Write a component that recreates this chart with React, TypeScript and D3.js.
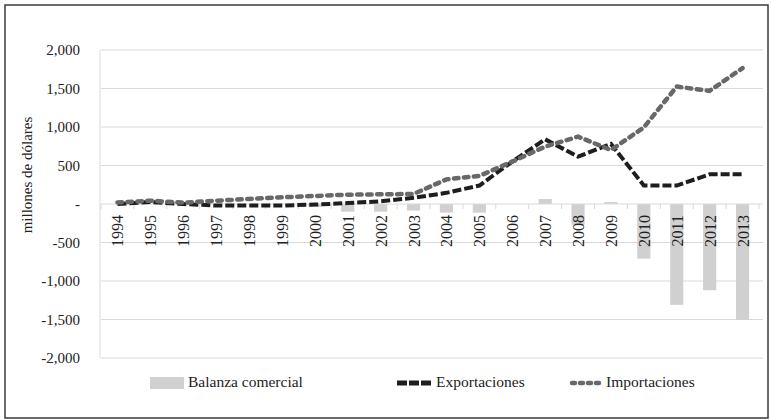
import React, { useEffect, useRef } from "react";
import * as d3 from "d3";

const years = ["1994","1995","1996","1997","1998","1999","2000","2001","2002","2003","2004","2005","2006","2007","2008","2009","2010","2011","2012","2013"];
const balanza = [0,0,0,0,0,0,-40,-100,-100,-85,-112,-112,0,65,-270,25,-710,-1310,-1120,-1505];
const exportaciones = [0,25,0,-20,-20,-20,-8,12,35,80,145,240,550,840,615,780,240,240,385,385];
const importaciones = [20,43,17,43,65,87,104,121,126,130,320,365,550,745,875,700,995,1525,1470,1765];
const yTicks = [2000,1500,1000,500,0,-500,-1000,-1500,-2000];
const yTickLabels = ["2,000","1,500","1,000","500","-","-500","-1,000","-1,500","-2,000"];
const seriesNames = ["Balanza comercial","Exportaciones","Importaciones"];

const W = 771, H = 420;
const FONT = "'Liberation Serif', 'Times New Roman', serif";

export default function App() {
  const ref = useRef<SVGSVGElement>(null);
  useEffect(() => {
    const svg = d3.select(ref.current);
    svg.selectAll("*").remove();

    const x = d3.scaleBand<string>().domain(years).range([101, 759]).padding(0);
    const y = d3.scaleLinear().domain([-2000, 2000]).range([358, 50]);
    const cx = (d: string) => (x(d) as number) + x.bandwidth() / 2;

    // frame
    svg.append("rect").attr("x", 5).attr("y", 5).attr("width", 763).attr("height", 413)
      .attr("fill", "white").attr("stroke", "#3a3a3a").attr("stroke-width", 1.5);

    // gridlines
    svg.append("g").selectAll("line").data(yTicks.filter(v => v !== 0)).join("line")
      .attr("x1", 101).attr("x2", 763)
      .attr("y1", d => y(d)).attr("y2", d => y(d))
      .attr("stroke", "#d9d9d9").attr("stroke-width", 1);

    // vertical axis line
    svg.append("line").attr("x1", 100).attr("x2", 100).attr("y1", y(2000)).attr("y2", y(-2000))
      .attr("stroke", "#d9d9d9").attr("stroke-width", 1);

    // y labels
    svg.append("g").selectAll("text").data(yTicks).join("text")
      .attr("x", 80).attr("y", d => y(d)).attr("dy", "0.35em")
      .attr("text-anchor", "end").attr("font-family", FONT).attr("font-size", 15)
      .attr("fill", "#222")
      .text((d, i) => yTickLabels[i]);

    // y title
    svg.append("text")
      .attr("transform", `translate(32,175) rotate(-90)`)
      .attr("text-anchor", "middle").attr("font-family", FONT).attr("font-size", 15)
      .attr("fill", "#222").text("millones de dólares");

    // bars
    const bw = x.bandwidth() * 0.4;
    svg.append("g").selectAll("rect").data(years).join("rect")
      .attr("x", d => cx(d) - bw / 2)
      .attr("width", bw)
      .attr("y", (d, i) => y(Math.max(0, balanza[i])))
      .attr("height", (d, i) => Math.abs(y(balanza[i]) - y(0)))
      .attr("fill", "#d0d0d0");

    // zero line
    svg.append("line").attr("x1", 101).attr("x2", 763).attr("y1", y(0)).attr("y2", y(0))
      .attr("stroke", "#d9d9d9").attr("stroke-width", 1);
    // ticks at category boundaries
    const bounds = years.map(d => x(d) as number).concat([759]);
    svg.append("g").selectAll("line").data(bounds).join("line")
      .attr("x1", d => d).attr("x2", d => d).attr("y1", y(0)).attr("y2", y(0) + 5)
      .attr("stroke", "#d9d9d9").attr("stroke-width", 1);

    // lines
    const line = d3.line<number>().x((d, i) => cx(years[i])).y(d => y(d));
    svg.append("path").attr("d", line(exportaciones) as string)
      .attr("fill", "none").attr("stroke", "#1e1e1e").attr("stroke-width", 4)
      .attr("stroke-dasharray", "9,3");
    svg.append("path").attr("d", line(importaciones) as string)
      .attr("fill", "none").attr("stroke", "#686868").attr("stroke-width", 4.5)
      .attr("stroke-linecap", "round").attr("stroke-dasharray", "4.5,5.5");

    // year labels
    svg.append("g").selectAll("text").data(years).join("text")
      .attr("transform", d => `translate(${cx(d) + 6},${y(0) + 11}) rotate(-90)`)
      .attr("text-anchor", "end").attr("font-family", FONT).attr("font-size", 16)
      .attr("fill", "#222").text(d => d);

    // legend
    const ly = 383;
    const base = 387;
    const lg = svg.append("g").attr("font-family", FONT).attr("font-size", 15.5).attr("fill", "#222");
    lg.append("rect").attr("x", 150).attr("y", ly - 6).attr("width", 34).attr("height", 12).attr("fill", "#d0d0d0");
    lg.append("text").attr("x", 188).attr("y", base).text(seriesNames[0]);
    lg.append("line").attr("x1", 397).attr("x2", 431).attr("y1", ly).attr("y2", ly)
      .attr("stroke", "#1e1e1e").attr("stroke-width", 5).attr("stroke-dasharray", "10,2");
    lg.append("text").attr("x", 436).attr("y", base).text(seriesNames[1]);
    lg.append("line").attr("x1", 572).attr("x2", 602).attr("y1", ly).attr("y2", ly)
      .attr("stroke", "#686868").attr("stroke-width", 4.5).attr("stroke-linecap", "round")
      .attr("stroke-dasharray", "3,5");
    lg.append("text").attr("x", 606).attr("y", base).text(seriesNames[2]);
  }, []);
  return (
    <svg ref={ref} width={W} height={H}
      style={{ position: "absolute", left: 0, top: 0, display: "block", background: "white" }} />
  );
}
